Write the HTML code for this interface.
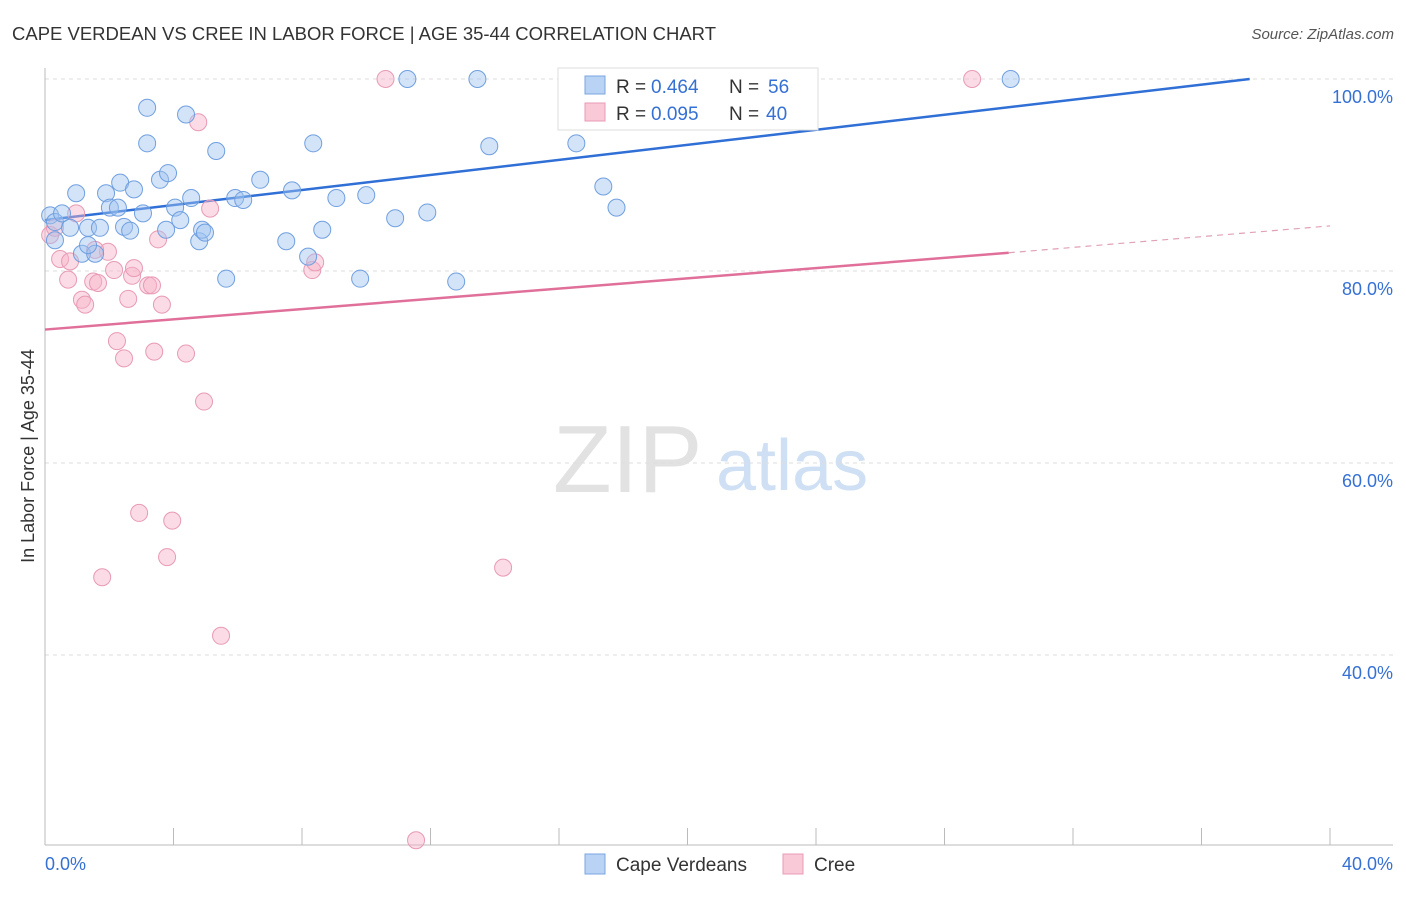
<!DOCTYPE html>
<html><head><meta charset="utf-8"><style>
body{margin:0;background:#fff;font-family:"Liberation Sans",sans-serif;}
svg text{font-family:"Liberation Sans",sans-serif;}
</style></head><body>
<svg id="chart" width="1406" height="892">
<text x="12" y="40" font-size="18" fill="#333" textLength="704" lengthAdjust="spacingAndGlyphs">CAPE VERDEAN VS CREE IN LABOR FORCE | AGE 35-44 CORRELATION CHART</text>
<text x="1394" y="39" font-size="15" fill="#555" text-anchor="end" font-style="italic">Source: ZipAtlas.com</text>
<g>
<text x="553" y="492" font-size="96" fill="#e2e2e2" font-family="Liberation Serif,serif">ZIP</text>
<text x="716" y="490" font-size="72" fill="#cfe0f5">atlas</text>
</g>
<g id="grid"></g>
<g id="axes"></g>
<g id="lines"></g>
<g id="pts"></g>
<text transform="translate(34,456) rotate(-90)" font-size="18" fill="#333" text-anchor="middle">In Labor Force | Age 35-44</text>
<g>
<rect x="558" y="68" width="260" height="62" fill="#fff" stroke="#ddd"/>
<rect x="585" y="76" width="20" height="18" fill="#b9d3f5" stroke="#7aa6e0"/>
<rect x="585" y="103" width="20" height="18" fill="#f9c9d8" stroke="#e89ab4"/>
<text x="616" y="93" font-size="19" fill="#333">R =</text>
<text x="651" y="93" font-size="19" fill="#3570d4">0.464</text>
<text x="729" y="93" font-size="19" fill="#333">N =</text>
<text x="768" y="93" font-size="19" fill="#3570d4">56</text>
<text x="616" y="120" font-size="19" fill="#333">R =</text>
<text x="651" y="120" font-size="19" fill="#3570d4">0.095</text>
<text x="729" y="120" font-size="19" fill="#333">N =</text>
<text x="766" y="120" font-size="19" fill="#3570d4">40</text>
</g>
<g>
<rect x="585" y="854" width="20" height="20" fill="#b9d3f5" stroke="#7aa6e0"/>
<text x="616" y="871" font-size="19" fill="#333">Cape Verdeans</text>
<rect x="783" y="854" width="20" height="20" fill="#f9c9d8" stroke="#e89ab4"/>
<text x="814" y="871" font-size="19" fill="#333">Cree</text>
</g>
</svg>
<script>
const blueX=[0.16,0.31,0.53,0.78,0.97,1.15,1.34,1.56,1.71,1.90,2.02,2.27,2.34,2.46,2.65,2.77,3.05,3.18,3.18,3.58,3.83,3.77,4.05,4.21,4.39,4.55,4.80,4.89,4.98,5.33,5.64,5.92,6.17,6.70,7.51,7.69,8.19,8.35,8.63,9.07,9.81,10.0,10.9,11.28,11.9,12.8,13.46,13.83,16.54,17.38,17.79,21.9,30.06,1.34,0.31];
const blueY=[85.8,85.1,86.0,84.5,88.1,81.8,84.5,81.8,84.5,88.1,86.6,86.6,89.2,84.6,84.2,88.5,86.0,97.0,93.3,89.5,90.2,84.3,86.6,85.3,96.3,87.6,83.1,84.3,84.0,92.5,79.2,87.6,87.4,89.5,83.1,88.4,81.5,93.3,84.3,87.6,79.2,87.9,85.5,100,86.1,78.9,100,93.0,93.3,88.8,86.6,100,100,82.7,83.2];
const pinkX=[0.16,0.31,0.47,0.78,0.72,0.97,1.15,1.25,1.50,1.65,1.78,1.96,2.15,2.24,2.46,2.59,2.71,2.77,2.93,3.21,3.33,3.40,3.52,3.64,3.80,3.96,4.39,4.77,4.95,5.14,5.48,8.32,8.41,10.6,11.55,14.26,19.97,28.86,1.56];
const pinkY=[83.75,84.5,81.25,81.0,79.1,86.0,77.0,76.5,78.9,78.75,48.1,82.0,80.1,72.7,70.9,77.1,79.5,80.3,54.8,78.5,78.5,71.6,83.3,76.5,50.2,54.0,71.4,95.5,66.4,86.5,42.0,80.1,80.9,100,20.7,49.1,100,100,82.2];
const blueTrend=[[0,85.3],[37.5,100]];
const pinkTrend=[[0,73.9],[30,81.9],[40,84.7]];
const yTicks=[100,80,60,40];
const xTickLabels=["0.0%","40.0%"];
const NS="http://www.w3.org/2000/svg";
const xs=v=>45+v*32.125, ys=v=>79+(100-v)*9.6;
function mk(tag,attrs,parent){const e=document.createElementNS(NS,tag);for(const k in attrs)e.setAttribute(k,attrs[k]);parent.appendChild(e);return e;}
const grid=document.getElementById('grid'),axes=document.getElementById('axes'),lines=document.getElementById('lines'),pts=document.getElementById('pts');
yTicks.forEach(t=>{const l=mk('line',{x1:45,x2:1393,y1:ys(t),y2:ys(t),stroke:'#ddd','stroke-dasharray':'4,4'},grid);


const tx=mk('text',{x:1393,y:ys(t)+24,'font-size':18,fill:'#3570d4','text-anchor':'end'},grid);tx.textContent=t.toFixed(1)+'%';

});
mk('line',{x1:45,x2:45,y1:68,y2:845,stroke:'#bbb'},axes);
mk('line',{x1:45,x2:1393,y1:845,y2:845,stroke:'#bbb'},axes);
for(let i=1;i<=10;i++){mk('line',{x1:xs(i*4),x2:xs(i*4),y1:828,y2:845,stroke:'#bbb'},axes);}
[[0,'start',45],[40,'end',1393]].forEach((d,i)=>{const t=mk('text',{x:d[2],y:870,'font-size':18,fill:'#3570d4','text-anchor':d[1]},axes);t.textContent=xTickLabels[i];

});
const bl=mk('line',{x1:xs(blueTrend[0][0]),y1:ys(blueTrend[0][1]),x2:xs(blueTrend[1][0]),y2:ys(blueTrend[1][1]),stroke:'#2f6fd6','stroke-width':2.5},lines);


const pl=mk('line',{x1:xs(pinkTrend[0][0]),y1:ys(pinkTrend[0][1]),x2:xs(pinkTrend[1][0]),y2:ys(pinkTrend[1][1]),stroke:'#e0709a','stroke-width':2.5},lines);


const pd=mk('line',{x1:xs(pinkTrend[1][0]),y1:ys(pinkTrend[1][1]),x2:xs(pinkTrend[2][0]),y2:ys(pinkTrend[2][1]),stroke:'#e0a0b8','stroke-width':1.2,'stroke-dasharray':'6,5'},lines);


pinkX.forEach((x,i)=>{const c=mk('circle',{cx:xs(x),cy:ys(pinkY[i]),r:8.5,fill:'rgba(246,178,200,0.45)',stroke:'#e89ab4','stroke-width':1},pts);

});
blueX.forEach((x,i)=>{const c=mk('circle',{cx:xs(x),cy:ys(blueY[i]),r:8.5,fill:'rgba(160,196,240,0.45)',stroke:'#6f9fe0','stroke-width':1},pts);

});
</script>
</body></html>
